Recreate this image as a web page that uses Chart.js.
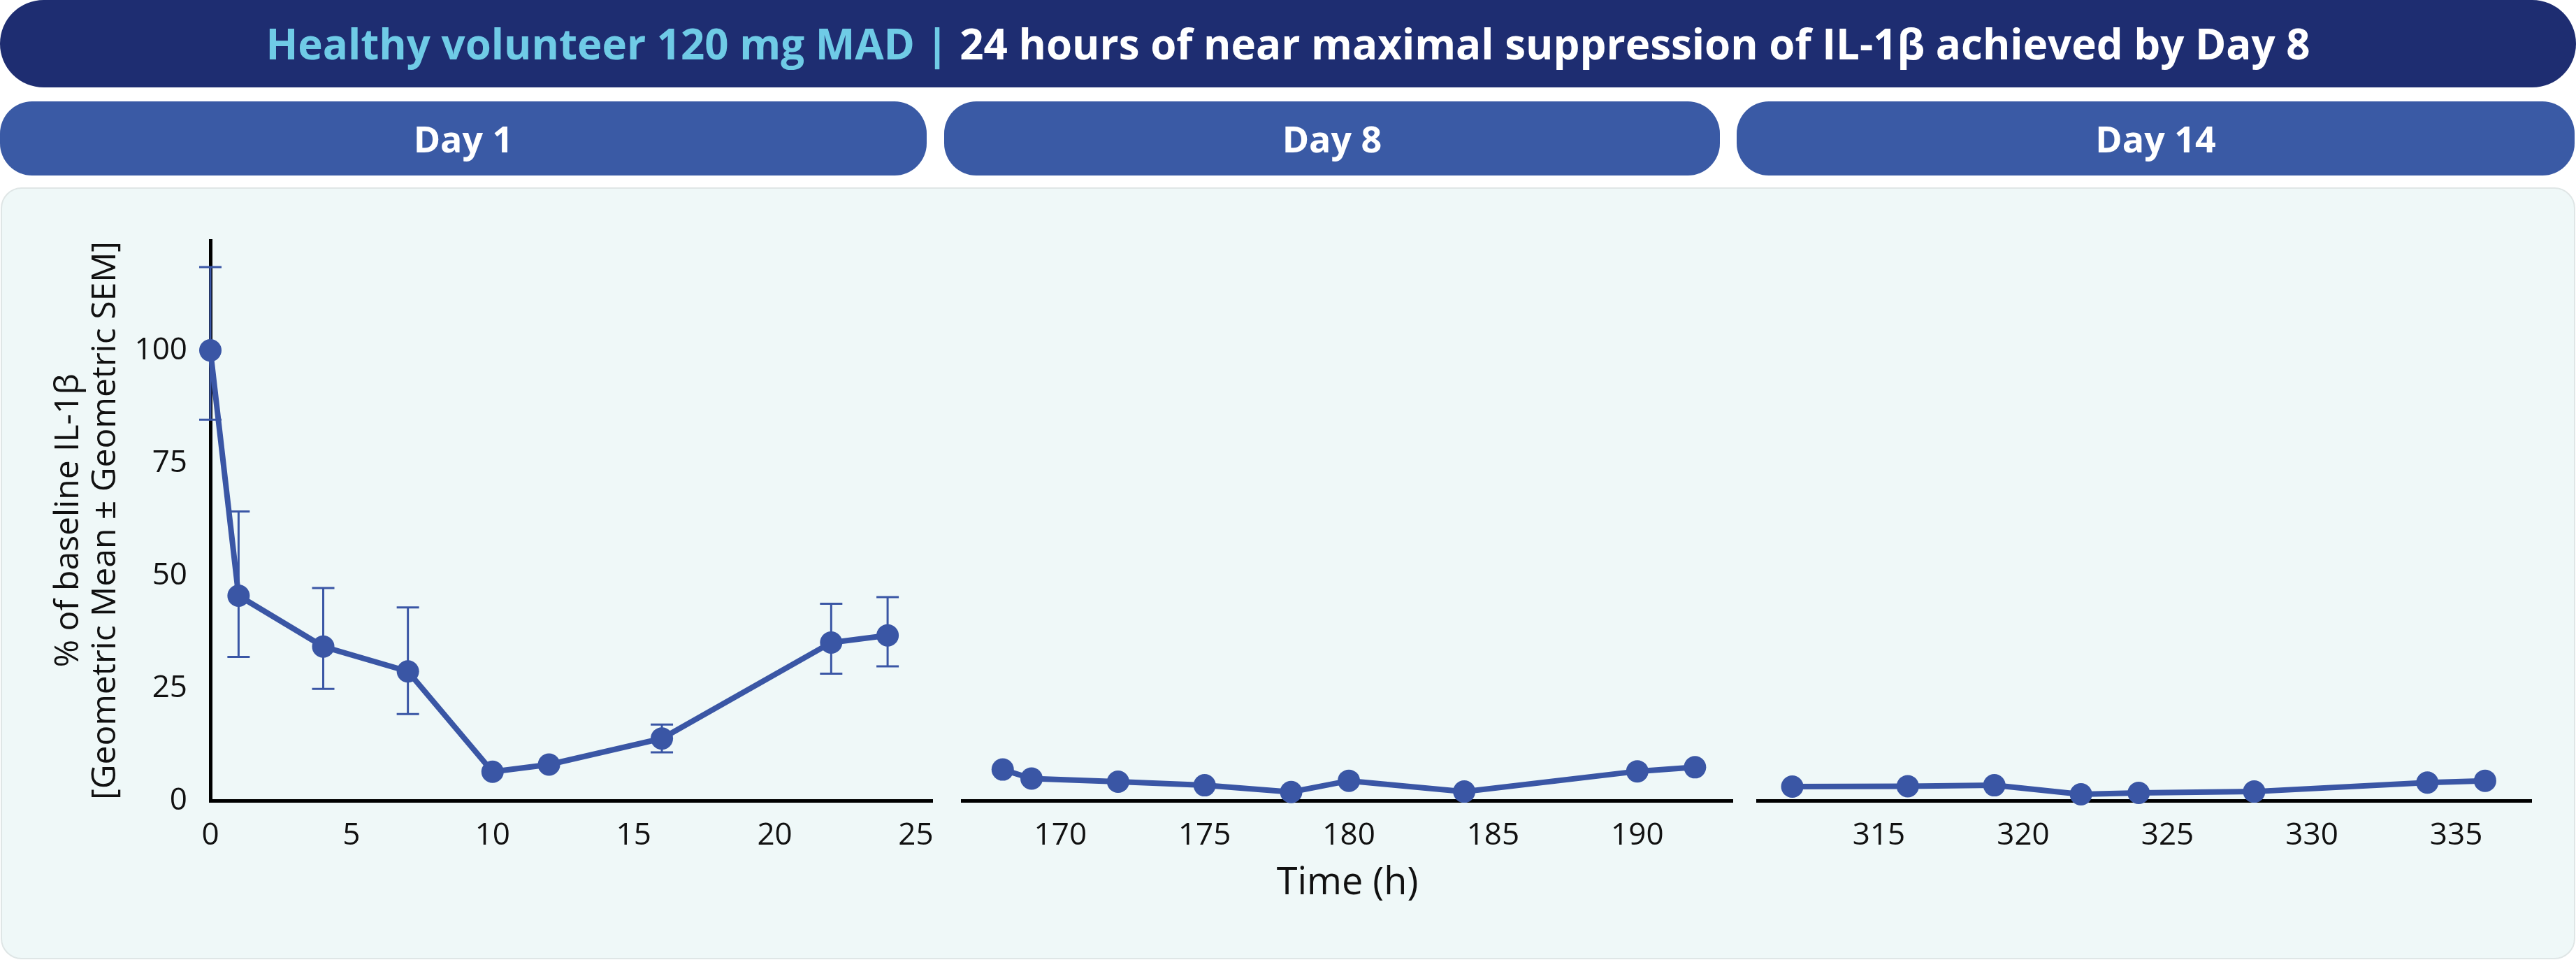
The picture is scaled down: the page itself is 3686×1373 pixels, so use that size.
<!DOCTYPE html>
<html>
<head>
<meta charset="utf-8">
<script src="https://cdn.jsdelivr.net/npm/chart.js@4.4.0/dist/chart.umd.min.js"></script>
<style>
  body { margin: 0; background: #ffffff; font-family: 'Open Sans', sans-serif; }
  #page { position: relative; width: 3686px; height: 1373px; overflow: hidden; }
  #title {
    position: absolute; left: 0; top: 0; width: 3686px; height: 125px;
    border-radius: 63px; background: #1e2d71; color: #ffffff;
    font-weight: 700; font-size: 60px; line-height: 125px; text-align: center;
  }
  #title .hl { color: #6fcbe6; }
  .day {
    position: absolute; top: 145px; height: 106px; border-radius: 46px;
    background: #3a5aa5; color: #ffffff; font-weight: 700; font-size: 52px;
    line-height: 106px; text-align: center;
  }
  #panel {
    position: absolute; left: 1px; top: 268px; width: 3680px; height: 1100px;
    border: 2px solid #dfe6e6; border-radius: 30px; background: #eff8f8;
  }
  canvas { position: absolute; top: 266px; }
</style>
</head>
<body>
<div id="page">
  <div id="title"><span class="hl">Healthy volunteer 120 mg MAD |</span> 24 hours of near maximal suppression of IL-1β achieved by Day 8</div>
  <div class="day" style="left:0px;width:1326px;">Day 1</div>
  <div class="day" style="left:1351px;width:1110px;">Day 8</div>
  <div class="day" style="left:2485px;width:1199px;">Day 14</div>
  <div id="panel"></div>
  <canvas id="c1" width="1360" height="1100" style="left:0px;"></canvas>
  <canvas id="c2" width="1143" height="1100" style="left:1352px;"></canvas>
  <canvas id="c3" width="1150" height="1100" style="left:2490px;"></canvas>
</div>
<script>
// Day 1
const day1Hours = [0, 1, 4, 7, 10, 12, 16, 22, 24];
const day1Mean = [100, 45.5, 34.2, 28.7, 6.4, 8.0, 13.8, 35.1, 36.7];
const day1ErrHigh = [118.5, 64.2, 47.2, 42.9, null, null, 16.9, 43.7, 45.2];
const day1ErrLow = [84.6, 31.9, 24.8, 19.2, null, null, 10.7, 28.2, 29.8];
const day1Ticks = [0, 5, 10, 15, 20, 25];

// Day 8
const day8Hours = [168, 169, 172, 175, 178, 180, 184, 190, 192];
const day8Mean = [6.9, 4.9, 4.2, 3.4, 1.9, 4.4, 2.0, 6.5, 7.4];
const day8Ticks = [170, 175, 180, 185, 190];

// Day 14
const day14Hours = [312, 316, 319, 322, 324, 328, 334, 336];
const day14Mean = [3.1, 3.2, 3.4, 1.4, 1.7, 2.0, 4.0, 4.4];
const day14Ticks = [315, 320, 325, 330, 335];

const yTicks = [0, 25, 50, 75, 100];
const xRanges = [[0, 25.6], [166.6, 193.3], [310.8, 337.6]];

const blue = '#3a56a5';
Chart.defaults.font.family = "'Open Sans', sans-serif";
Chart.defaults.color = '#111111';

const errorBars = {
  id: 'errorBars',
  beforeDatasetsDraw(chart, args, opts) {
    if (!opts.high) return;
    const ctx = chart.ctx;
    const xs = chart.scales.x, ys = chart.scales.y;
    ctx.save();
    ctx.strokeStyle = blue;
    ctx.lineWidth = 3;
    opts.x.forEach((h, i) => {
      if (opts.high[i] == null) return;
      const px = xs.getPixelForValue(h);
      const top = ys.getPixelForValue(opts.high[i]);
      const bot = ys.getPixelForValue(opts.low[i]);
      ctx.beginPath();
      ctx.moveTo(px, top); ctx.lineTo(px, bot);
      ctx.moveTo(px - 16, top); ctx.lineTo(px + 16, top);
      ctx.moveTo(px - 16, bot); ctx.lineTo(px + 16, bot);
      ctx.stroke();
    });
    ctx.restore();
  }
};

function makeChart(id, hours, values, range, xTicks, opts) {
  const showY = opts.showY;
  return new Chart(document.getElementById(id), {
    type: 'line',
    data: {
      datasets: [{
        data: hours.map((h, i) => ({x: h, y: values[i]})),
        borderColor: blue,
        backgroundColor: blue,
        borderWidth: 8,
        pointRadius: 16,
        pointBackgroundColor: blue,
        pointBorderWidth: 0,
        tension: 0,
        clip: false
      }]
    },
    options: {
      responsive: false,
      animation: false,
      layout: { padding: { top: 78, left: opts.padLeft, right: opts.padRight, bottom: 0 } },
      plugins: {
        legend: { display: false },
        tooltip: { enabled: false },
        errorBars: { x: hours, high: opts.high, low: opts.low }
      },
      scales: {
        x: {
          type: 'linear',
          min: range[0],
          max: range[1],
          afterBuildTicks(scale) { scale.ticks = xTicks.map(v => ({value: v})); },
          grid: { display: false, drawTicks: false },
          border: { display: true, color: '#000000', width: 5 },
          ticks: { padding: 24, font: { size: 44 }, color: '#111111' },
          title: {
            display: !!opts.xTitle,
            text: opts.xTitle || '',
            font: { size: 54 },
            color: '#111111',
            padding: { bottom: 70 }
          },
          afterFit(scale) { scale.height = 221; }
        },
        y: {
          display: showY,
          min: 0,
          max: 124.4,
          afterBuildTicks(scale) { scale.ticks = yTicks.map(v => ({value: v})); },
          grid: { display: false, drawTicks: false },
          border: { display: true, color: '#000000', width: 5 },
          ticks: { padding: 33, font: { size: 44 }, color: '#111111' },
          title: {
            display: showY,
            text: ['% of baseline IL-1β', '[Geometric Mean ± Geometric SEM]'],
            font: { size: 48, lineHeight: 1.1 },
            color: '#111111',
            padding: { top: 72 }
          },
          afterFit(scale) { if (showY) scale.width = 301; }
        }
      }
    },
    plugins: [errorBars]
  });
}

makeChart('c1', day1Hours, day1Mean, xRanges[0], day1Ticks,
  { showY: true, padLeft: 0, padRight: 12, high: day1ErrHigh, low: day1ErrLow });
makeChart('c2', day8Hours, day8Mean, xRanges[1], day8Ticks,
  { showY: false, padLeft: 25, padRight: 15, xTitle: 'Time (h)' });
makeChart('c3', day14Hours, day14Mean, xRanges[2], day14Ticks,
  { showY: false, padLeft: 25, padRight: 18 });
</script>
</body>
</html>
